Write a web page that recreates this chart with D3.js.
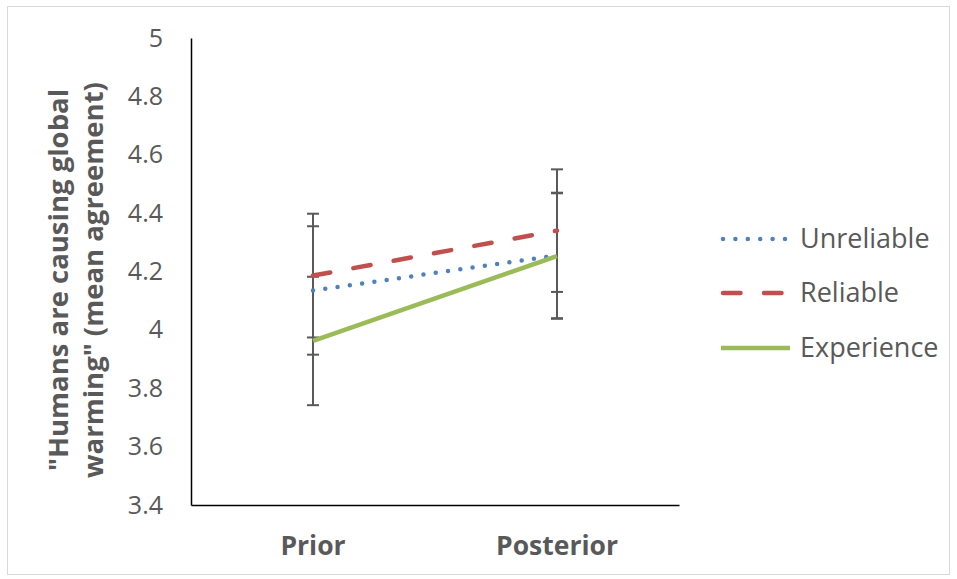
<!DOCTYPE html>
<html><head><meta charset="utf-8">
<script src="https://cdn.jsdelivr.net/npm/d3@7"></script>
<style>html,body{margin:0;padding:0;background:#fff;}svg{display:block;}</style>
</head><body>
<svg id="c" width="957" height="579"></svg>
<script>
const categories = ["Prior", "Posterior"];
const unreliable = [4.135, 4.255];
const unreliableErr = [0.22, 0.215];
const reliable = [4.186, 4.34];
const reliableErr = [0.212, 0.21];
const experience = [3.962, 4.253];
const experienceErr = [0.22, 0.215];
const yTicks = [3.4, 3.6, 3.8, 4, 4.2, 4.4, 4.6, 4.8, 5];
const seriesNames = ["Unreliable", "Reliable", "Experience"];
const yTitle = ['"Humans are causing global', 'warming" (mean agreement)'];

const series = [
  {name: seriesNames[0], values: unreliable, err: unreliableErr, color: "#4F81BD", dash: "0 12.4", cap: "round"},
  {name: seriesNames[1], values: reliable, err: reliableErr, color: "#C0504D", dash: "17.5 23.5", cap: "round"},
  {name: seriesNames[2], values: experience, err: experienceErr, color: "#9BBB59", dash: null, cap: "butt"}
];

const svg = d3.select("#c");
const font = "'Open Sans', sans-serif";
const textColor = "#595959";

svg.append("rect").attr("x", 7.5).attr("y", 6.5).attr("width", 942).attr("height", 568)
  .attr("fill", "#fff").attr("stroke", "#d9d9d9").attr("stroke-width", 1);

const L = 191, R = 679, T = 38, B = 505;
const x = d3.scaleBand().domain(categories).range([L, R]);
const y = d3.scaleLinear().domain([3.4, 5]).range([B, T]);
const cx = c => x(c) + x.bandwidth() / 2;

// Axes
const yAxis = svg.append("g").attr("transform", `translate(${L},0)`)
  .call(d3.axisLeft(y).tickValues(yTicks).tickSize(0).tickPadding(28).tickFormat(d3.format("")));
yAxis.select(".domain").attr("stroke", "#000").attr("stroke-width", 1.5);
yAxis.selectAll("text").attr("font-family", font).attr("font-size", 25).attr("fill", textColor);

const xAxis = svg.append("g").attr("transform", `translate(0,${B})`)
  .call(d3.axisBottom(x).tickSize(0).tickPadding(31));
xAxis.select(".domain").attr("stroke", "#000").attr("stroke-width", 1.5);
xAxis.selectAll("text").attr("font-family", font).attr("font-size", 26.5).attr("font-weight", "bold").attr("fill", textColor);

// Y title
const tt = svg.append("text").attr("transform", "translate(68,280) rotate(-90)")
  .attr("text-anchor", "middle").attr("font-family", font).attr("font-size", 27.5)
  .attr("font-weight", "bold").attr("fill", textColor);
tt.append("tspan").attr("x", 0).attr("y", 0).text(yTitle[0]);
tt.append("tspan").attr("x", 0).attr("y", 35).text(yTitle[1]);

// Error bars
const eb = svg.append("g");
series.forEach(s => {
  categories.forEach((c, i) => {
    const v = s.values[i], e = s.err[i], px = cx(c);
    eb.append("line").attr("x1", px).attr("x2", px).attr("y1", y(v + e)).attr("y2", y(v - e))
      .attr("stroke", "#595959").attr("stroke-width", 2);
    [v + e, v - e].forEach(t => {
      eb.append("line").attr("x1", px - 6).attr("x2", px + 6).attr("y1", y(t)).attr("y2", y(t))
        .attr("stroke", "#595959").attr("stroke-width", 2);
    });
  });
});

// Lines
const line = d3.line().x((d, i) => cx(categories[i])).y(d => y(d));
series.forEach(s => {
  svg.append("path").datum(s.values).attr("d", line).attr("fill", "none")
    .attr("stroke", s.color).attr("stroke-width", 4.5)
    .attr("stroke-dasharray", s.dash).attr("stroke-linecap", s.cap);
});

// Legend
const legY = [239, 293, 348];
series.forEach((s, i) => {
  const g = svg.append("g");
  g.append("line").attr("x1", s.cap === "round" ? 723 : 721).attr("x2", 790).attr("y1", legY[i]).attr("y2", legY[i])
    .attr("stroke", s.color).attr("stroke-width", 4.5)
    .attr("stroke-dasharray", s.dash).attr("stroke-linecap", s.cap);
  g.append("text").attr("x", 800).attr("y", legY[i]).attr("dy", "0.35em")
    .attr("font-family", font).attr("font-size", 27).attr("fill", textColor).text(s.name);
});
</script>
</body></html>
